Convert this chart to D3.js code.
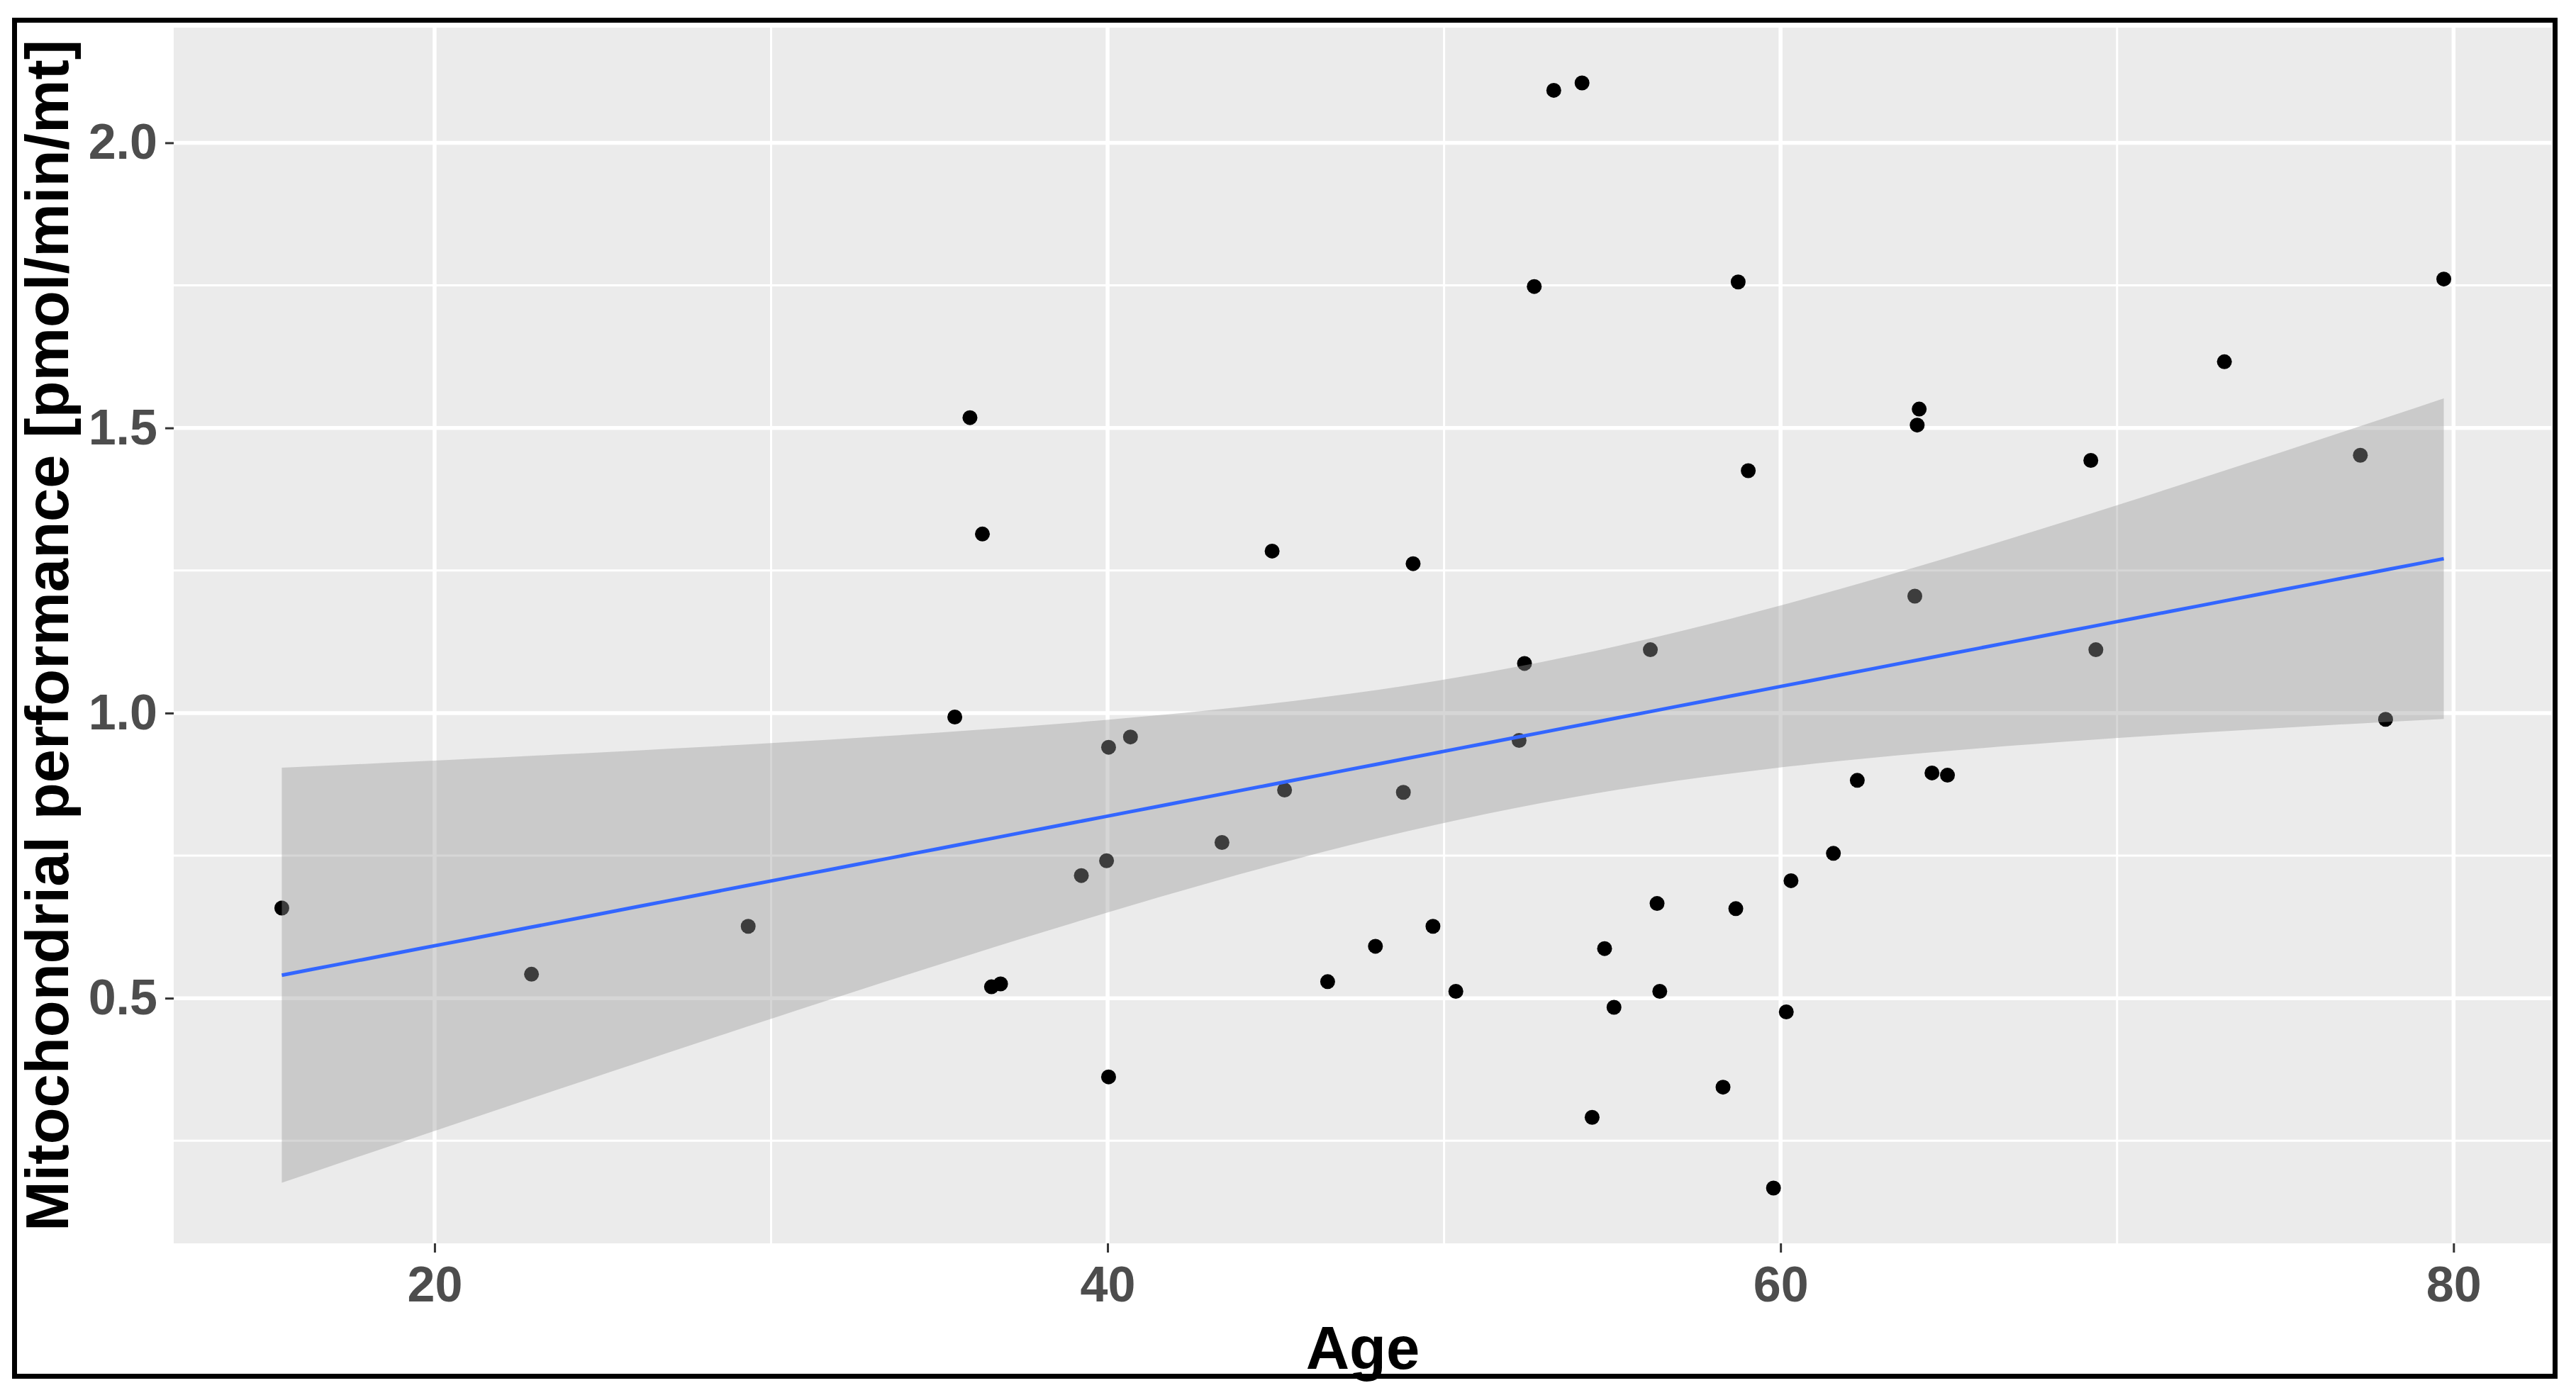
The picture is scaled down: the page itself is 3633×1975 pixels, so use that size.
<!DOCTYPE html>
<html>
<head>
<meta charset="utf-8">
<script src="https://cdn.jsdelivr.net/npm/d3@7"></script>
<style>
  html, body { margin: 0; padding: 0; background: #ffffff; }
  svg { display: block; }
</style>
</head>
<body>
<svg id="chart" width="3633" height="1975"></svg>
<script>
// ---- data ----
const ages = [15.46, 22.88, 29.32, 35.46, 35.91, 36.28, 36.55, 36.82, 39.22, 39.97,
              40.03, 40.03, 40.68, 43.40, 44.89, 45.26, 46.54, 47.96, 48.79, 49.08,
              49.67, 50.35, 52.23, 52.39, 52.68, 53.26, 54.10, 54.40, 54.77, 55.05,
              56.13, 56.33, 56.41, 58.29, 58.67, 58.74, 59.04, 59.79, 60.17, 60.31,
              61.57, 62.28, 63.99, 64.06, 64.12, 64.50, 64.96, 69.22, 69.37, 73.19,
              77.23, 77.98, 79.71];
const performance = [0.658, 0.542, 0.626, 0.993, 1.518, 1.314, 0.520, 0.525, 0.715, 0.741,
                     0.940, 0.362, 0.958, 0.773, 1.284, 0.865, 0.529, 0.591, 0.861, 1.262,
                     0.626, 0.512, 0.952, 1.087, 1.748, 2.092, 2.105, 0.291, 0.587, 0.484,
                     1.111, 0.666, 0.512, 0.344, 0.657, 1.756, 1.425, 0.167, 0.476, 0.706,
                     0.754, 0.882, 1.205, 1.505, 1.533, 0.895, 0.891, 1.443, 1.111, 1.616,
                     1.452, 0.989, 1.761];
const xTickValues = [20, 40, 60, 80];
const xMinorValues = [30, 50, 70];
const yTickValues = [0.5, 1.0, 1.5, 2.0];
const yMinorValues = [0.25, 0.75, 1.25, 1.75];
const xTitle = "Age";
const yTitle = "Mitochondrial performance [pmol/min/mt]";

// ---- linear model (geom_smooth(method = "lm"), 95% CI) ----
const n = ages.length;
const mx = d3.mean(ages), my = d3.mean(performance);
let sxx = 0, sxy = 0;
for (let i = 0; i < n; i++) { sxx += (ages[i]-mx)**2; sxy += (ages[i]-mx)*(performance[i]-my); }
const slope = sxy / sxx, intercept = my - slope * mx;
let sse = 0;
for (let i = 0; i < n; i++) { const r = performance[i] - (intercept + slope*ages[i]); sse += r*r; }
const sigma = Math.sqrt(sse / (n - 2));
const tq = 2.00758; // qt(0.975, df = 51)
const [xmin, xmax] = d3.extent(ages);
const smooth = d3.range(80).map(i => {
  const x = xmin + (xmax - xmin) * i / 79;
  const fit = intercept + slope * x;
  const se = sigma * Math.sqrt(1/n + (x-mx)**2 / sxx);
  return {x, fit, lo: fit - tq*se, hi: fit + tq*se};
});

// ---- layout ----
const panel = {left: 245, top: 39, right: 3599, bottom: 1754};
const xr = xmax - xmin;
const yLo = Math.min(d3.min(performance), d3.min(smooth, d => d.lo));
const yHi = Math.max(d3.max(performance), d3.max(smooth, d => d.hi));
const yrng = yHi - yLo;
const x = d3.scaleLinear().domain([xmin - 0.05*xr, xmax + 0.05*xr]).range([panel.left, panel.right]);
const y = d3.scaleLinear().domain([yLo - 0.05*yrng, yHi + 0.05*yrng]).range([panel.bottom, panel.top]);

const svg = d3.select("#chart");
svg.append("rect").attr("x", 0).attr("y", 0).attr("width", 3633).attr("height", 1975).attr("fill", "#ffffff");

svg.append("defs").append("clipPath").attr("id", "clip")
  .append("rect").attr("x", panel.left).attr("y", panel.top)
  .attr("width", panel.right - panel.left).attr("height", panel.bottom - panel.top);

svg.append("rect").attr("x", panel.left).attr("y", panel.top)
  .attr("width", panel.right - panel.left).attr("height", panel.bottom - panel.top)
  .attr("fill", "#EBEBEB");

const grid = svg.append("g").attr("clip-path", "url(#clip)");
grid.selectAll(".ymin").data(yMinorValues).join("line")
  .attr("x1", panel.left).attr("x2", panel.right)
  .attr("y1", d => y(d)).attr("y2", d => y(d))
  .attr("stroke", "#ffffff").attr("stroke-width", 3);
grid.selectAll(".xmin").data(xMinorValues).join("line")
  .attr("y1", panel.top).attr("y2", panel.bottom)
  .attr("x1", d => x(d)).attr("x2", d => x(d))
  .attr("stroke", "#ffffff").attr("stroke-width", 3);
grid.selectAll(".ymaj").data(yTickValues).join("line")
  .attr("x1", panel.left).attr("x2", panel.right)
  .attr("y1", d => y(d)).attr("y2", d => y(d))
  .attr("stroke", "#ffffff").attr("stroke-width", 5.5);
grid.selectAll(".xmaj").data(xTickValues).join("line")
  .attr("y1", panel.top).attr("y2", panel.bottom)
  .attr("x1", d => x(d)).attr("x2", d => x(d))
  .attr("stroke", "#ffffff").attr("stroke-width", 5.5);

const plot = svg.append("g").attr("clip-path", "url(#clip)");
plot.selectAll("circle").data(ages.map((a, i) => ({a, p: performance[i]}))).join("circle")
  .attr("cx", d => x(d.a)).attr("cy", d => y(d.p)).attr("r", 10.5)
  .attr("fill", "#000000");

plot.append("path").datum(smooth)
  .attr("d", d3.area().x(d => x(d.x)).y0(d => y(d.lo)).y1(d => y(d.hi)))
  .attr("fill", "#999999").attr("fill-opacity", 0.4);

plot.append("path").datum(smooth)
  .attr("d", d3.line().x(d => x(d.x)).y(d => y(d.fit)))
  .attr("fill", "none").attr("stroke", "#3366FF").attr("stroke-width", 5);

// axes
const font = "'Liberation Sans', Arial, sans-serif";
const xAxis = svg.append("g").attr("transform", `translate(0,${panel.bottom})`)
  .call(d3.axisBottom(x).tickValues(xTickValues).tickSize(13).tickPadding(19).tickFormat(d3.format("d")));
const yAxis = svg.append("g").attr("transform", `translate(${panel.left},0)`)
  .call(d3.axisLeft(y).tickValues(yTickValues).tickSize(12).tickPadding(11).tickFormat(d3.format(".1f")));
[xAxis, yAxis].forEach(g => {
  g.select(".domain").remove();
  g.selectAll(".tick line").attr("stroke", "#333333").attr("stroke-width", 3);
  g.selectAll(".tick text").attr("fill", "#4D4D4D").style("font-family", font)
    .style("font-size", "70px").style("font-weight", "bold");
});

svg.append("text").text(xTitle)
  .attr("x", (panel.left + panel.right) / 2).attr("y", 1931)
  .attr("text-anchor", "middle").attr("fill", "#000000")
  .style("font-family", font).style("font-size", "85px").style("font-weight", "bold");

svg.append("text").text(yTitle)
  .attr("transform", `translate(96,${(panel.top + panel.bottom) / 2}) rotate(-90)`)
  .attr("text-anchor", "middle").attr("fill", "#000000")
  .style("font-family", font).style("font-size", "85px").style("font-weight", "bold");

// outer frame
svg.append("rect").attr("x", 20.5).attr("y", 28.5).attr("width", 3583).attr("height", 1913)
  .attr("fill", "none").attr("stroke", "#000000").attr("stroke-width", 7);
</script>
</body>
</html>
